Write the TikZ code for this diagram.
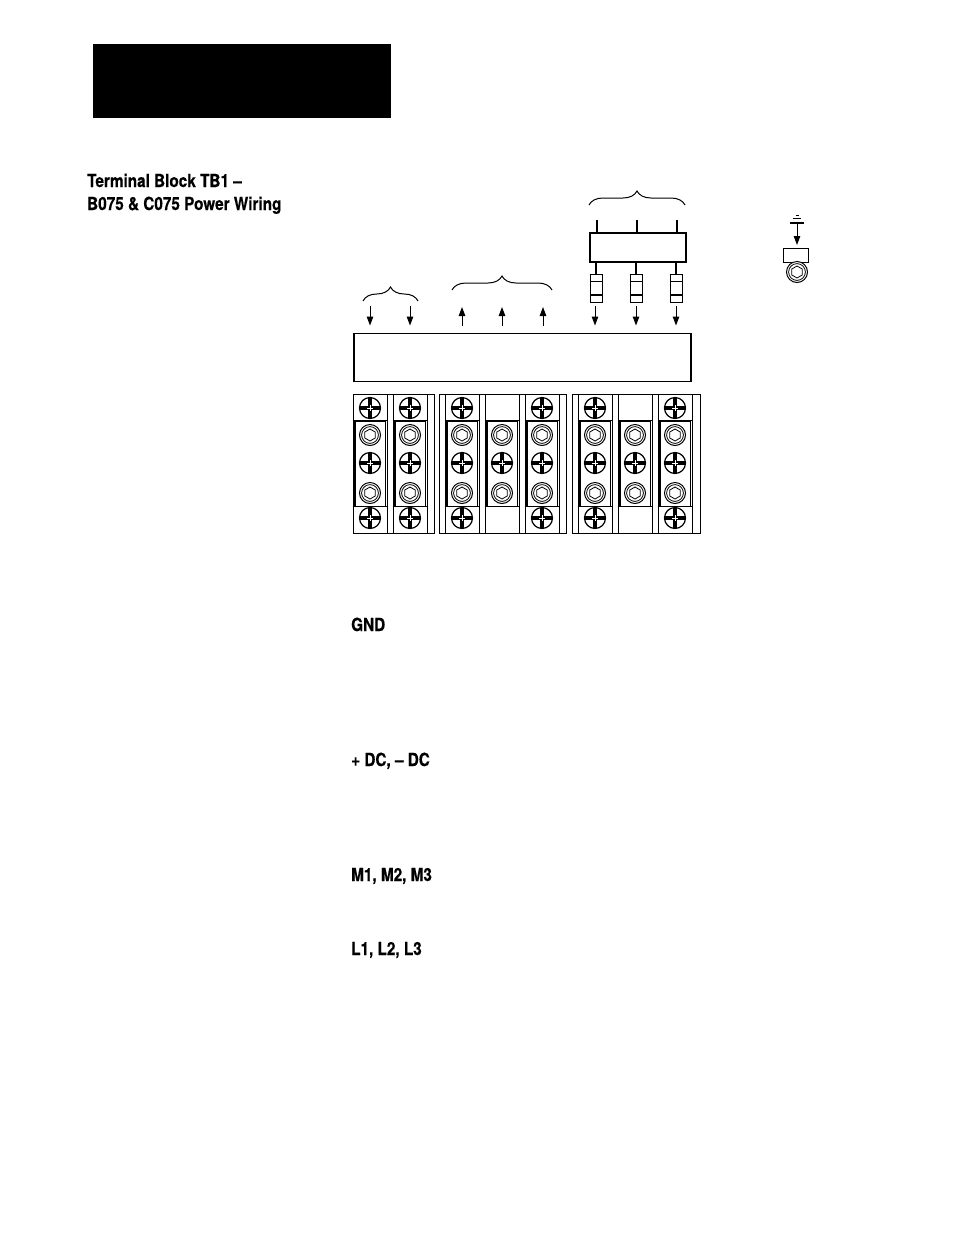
\documentclass[tikz,border=0pt]{standalone}
\usepackage{fontspec}
\setmainfont{TeX Gyre Heros}[FakeStretch=0.85,BoldFeatures={FakeBold=0.4}]
\usepackage{tikz}
\usetikzlibrary{
	arrows.meta,
	decorations.pathreplacing
}

\tikzset{
	plate/.style={draw,line width=0.9pt,inner sep=0pt},
	strip/.style={plate,line width=0.9pt,minimum width=30pt,minimum height=85pt},
	heading/.style={font=\fontsize{18}{23}\selectfont\bfseries,inner sep=0pt,anchor=base west},
	wire/.style={line width=1pt,-{Triangle[length=9pt,width=6.5pt]}},
	stub/.style={line width=1.2pt},
	clamp/.style={decorate,decoration={brace,amplitude=14pt,aspect=0.5},line width=1pt},
	phillips/.pic={
		\draw[line width=1.2pt,fill=white] (0,0) circle[radius=10.5pt];
		\draw[line width=3.1pt] (-10,0) -- (10,0) (0,-10) -- (0,10);
		\draw[white,line width=0.7pt] (-3,0) -- (3,0) (0,-3) -- (0,3);
	},
	hexhead/.pic={
		\draw[line width=1pt,fill=white] (0,0) circle[radius=10.5pt];
		\draw[line width=0.8pt] (0,0) circle[radius=8.4pt];
		\draw[line width=0.8pt] (30:6) -- (90:6) -- (150:6) -- (210:6) -- (270:6) -- (330:6) -- cycle;
	}
}

\begin{document}
\begin{tikzpicture}[x=1pt,y=-1pt]
	\useasboundingbox (0,0) rectangle (954,1235);

	\node[fill=black,inner sep=0pt,minimum width=298pt,minimum height=74pt] (header) at (242,81) {};

	\node[heading] (title1) at (87,187) {Terminal Block TB1 --};
	\node[heading] (title2) at (87,210) {B075 \& C075 Power Wiring};
	\node[heading] (gnd) at (351,631) {GND};
	\node[heading] (dc) at (351,766) {+ DC, -- DC};
	\node[heading] (motor) at (351,881) {M1, M2, M3};
	\node[heading] (line) at (351,955) {L1, L2, L3};

	% terminal blocks
	\node[plate,minimum width=81pt,minimum height=139pt] (blockA) at (393.5,463.5) {};
	\node[plate,minimum width=127pt,minimum height=139pt] (blockB) at (502.5,463.5) {};
	\node[plate,minimum width=128pt,minimum height=139pt] (blockC) at (636,463.5) {};

	\foreach \x/\l/\r in {370/1.8/0.9,410/0.9/1.8,462/0.9/1.8,502/1.8/1.8,542/1.8/1.2,595/1.8/0.9,635/0.9/1.8,675/1.8/0.9} {
		\node[plate,minimum width=34pt,minimum height=139pt] (cell\x) at (\x,463.5) {};
		\node[strip] (strip\x) at (\x,463.5) {};
		\draw[line width=\l pt] (strip\x.north west) -- (strip\x.south west);
		\draw[line width=\r pt] (strip\x.north east) -- (strip\x.south east);
		\draw[line width=1pt] (cell\x.west |- strip\x.north) -- (cell\x.east |- strip\x.north);
		\draw[line width=1pt] (cell\x.west |- strip\x.south) -- (cell\x.east |- strip\x.south);
		\pic at (\x,435) {hexhead};
		\pic at (\x,463) {phillips};
		\pic at (\x,493) {hexhead};
	}
	\foreach \x in {370,410,462,542,595,675} {
		\pic at (\x,408) {phillips};
		\pic at (\x,518) {phillips};
	}

	\node[plate,line width=1.2pt,minimum width=337pt,minimum height=48pt] (cover) at (522.5,357.5) {};

	% arrows onto the cover
	\foreach \x in {370,410,595,636,676} {
		\coordinate (in\x) at (\x,306);
		\coordinate (tip\x) at (\x,325.5);
		\draw[wire] (in\x) -- (tip\x);
	}
	\foreach \x in {462,502,543} {
		\coordinate (out\x) at (\x,326);
		\coordinate (head\x) at (\x,307);
		\draw[wire] (out\x) -- (head\x);
	}

	% fuses and bus
	\node[plate,line width=1.2pt,minimum width=96pt,minimum height=29pt] (bus) at (638,247.5) {};
	\foreach \x/\y in {596/597,636/637,676/677} {
		\node[plate,minimum width=12pt,minimum height=28pt] (fuse\x) at (\x,288) {};
		\draw[line width=0.8pt] (fuse\x.west |- 0,281) -- (fuse\x.east |- 0,281);
		\draw[line width=1.6pt] (fuse\x.west |- 0,295) -- (fuse\x.east |- 0,295);
		\draw[stub] (fuse\x.north) -- (fuse\x.north |- bus.south);
		\coordinate (top\x) at (\y,220);
		\draw[stub] (top\x) -- (top\x |- bus.north);
	}

	% braces
	\coordinate (braceA1) at (363,301);
	\coordinate (braceA2) at (418,301);
	\draw[clamp] (braceA1) -- (braceA2);
	\coordinate (braceB1) at (452,290);
	\coordinate (braceB2) at (552,290);
	\draw[clamp] (braceB1) -- (braceB2);
	\coordinate (braceC1) at (589,205);
	\coordinate (braceC2) at (685,205);
	\draw[clamp] (braceC1) -- (braceC2);

	% ground stud
	\node[plate,minimum width=25pt,minimum height=14pt] (lug) at (795.5,255) {};
	\pic at (797,272) {hexhead};
	\coordinate (earth) at (797,223);
	\coordinate (earthtip) at (797,245);
	\draw[wire] (earth) -- (earthtip);
	\draw[line width=1.3pt] (790,223) -- (804,223);
	\draw[line width=1pt] (793,218.5) -- (801,218.5);
	\draw[line width=1pt] (795.5,215) -- (798.5,215);
\end{tikzpicture}
\end{document}
